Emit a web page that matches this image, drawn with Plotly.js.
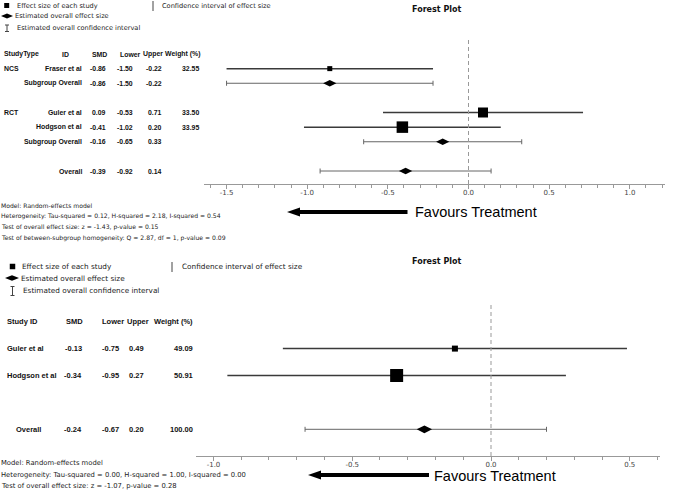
<!DOCTYPE html>
<html>
<head>
<meta charset="utf-8">
<script src="https://cdn.plot.ly/plotly-3.0.1.min.js"></script>
<style>html,body{margin:0;padding:0;background:#fff;}#chart{width:676px;height:492px;}</style>
</head>
<body>
<div id="chart"></div>
<script>
// ---------- DATA: top forest plot (subgroup analysis) ----------
const topStudyType = ['NCS', 'NCS', 'RCT', 'RCT', 'RCT', 'Overall'];
const topId = ['Fraser et al', 'Subgroup Overall', 'Guler et al', 'Hodgson et al', 'Subgroup Overall', 'Overall'];
const topSMD = [-0.86, -0.86, 0.09, -0.41, -0.16, -0.39];
const topLower = [-1.50, -1.50, -0.53, -1.02, -0.65, -0.92];
const topUpper = [-0.22, -0.22, 0.71, 0.20, 0.33, 0.14];
const topWeight = [32.55, null, 33.50, 33.95, null, null];
const topIsStudy = [true, false, true, true, false, false];
const topHeader = ['StudyType', 'ID', 'SMD', 'Lower', 'Upper', 'Weight (%)'];
const topTicks = [-1.5, -1.0, -0.5, 0.0, 0.5, 1.0];
const topStats = [
  'Model: Random-effects model',
  'Heterogeneity: Tau-squared = 0.12, H-squared = 2.18, I-squared = 0.54',
  'Test of overall effect size: z = -1.43, p-value = 0.15',
  'Test of between-subgroup homogeneity: Q = 2.87, df = 1, p-value = 0.09'
];

// ---------- DATA: bottom forest plot ----------
const botId = ['Guler et al', 'Hodgson et al', 'Overall'];
const botSMD = [-0.13, -0.34, -0.24];
const botLower = [-0.75, -0.95, -0.67];
const botUpper = [0.49, 0.27, 0.20];
const botWeight = [49.09, 50.91, 100.00];
const botIsStudy = [true, true, false];
const botHeader = ['Study ID', 'SMD', 'Lower', 'Upper', 'Weight (%)'];
const botTicks = [-1.0, -0.5, 0.0, 0.5];
const botStats = [
  'Model: Random-effects model',
  'Heterogeneity: Tau-squared = 0.00, H-squared = 1.00, I-squared = 0.00',
  'Test of overall effect size: z = -1.07, p-value = 0.28'
];

const titleText = 'Forest Plot';
const favoursText = 'Favours Treatment';
const legendTexts = ['Effect size of each study', 'Estimated overall effect size',
                     'Estimated overall confidence interval', 'Confidence interval of effect size'];

// ---------- STYLE ----------
const topStudySize = [5, 10, 11.5];
const botStudySize = [6, 13];
const W = 676, H = 492;
const px = x => x / W;
const py = y => 1 - y / H;
const TABLE_FONT = 'Liberation Sans, Arial, sans-serif';
const SMALL_FONT = 'DejaVu Sans, sans-serif';

// ---------- row categories ----------
const topKey = topId.map((d, i) => topStudyType[i] + ' · ' + d);
const topCats = ['header'];
topKey.forEach((k, i) => {
  if (i > 0 && topStudyType[i] !== topStudyType[i - 1]) topCats.push('gap' + i);
  topCats.push(k);
});
const botCats = ['header'];
botId.forEach((k, i) => {
  if (i > 0 && !botIsStudy[i] && botIsStudy[i - 1]) botCats.push('gap' + i);
  botCats.push(k);
});

function pick(arr, mask, want) { return arr.filter((_, i) => mask[i] === want); }

function forestTraces(xa, ya, keys, smd, lo, up, isStudy, studySizes, diamondSize) {
  const sx = pick(smd, isStudy, true), sy = pick(keys, isStudy, true);
  const sl = pick(lo, isStudy, true), su = pick(up, isStudy, true);
  const ox = pick(smd, isStudy, false), oy = pick(keys, isStudy, false);
  const ol = pick(lo, isStudy, false), ou = pick(up, isStudy, false);
  return [
    { type: 'scatter', mode: 'markers', xaxis: xa, yaxis: ya, x: sx, y: sy,
      marker: { size: 1, opacity: 0 },
      error_x: { type: 'data', symmetric: false, array: su.map((u, i) => u - sx[i]),
                 arrayminus: sl.map((l, i) => sx[i] - l), color: '#3a3a3a', thickness: 1.5, width: 0 },
      hoverinfo: 'skip', showlegend: false },
    { type: 'scatter', mode: 'markers', xaxis: xa, yaxis: ya, x: ox, y: oy,
      marker: { size: 1, opacity: 0 },
      error_x: { type: 'data', symmetric: false, array: ou.map((u, i) => u - ox[i]),
                 arrayminus: ol.map((l, i) => ox[i] - l), color: '#666', thickness: 1, width: 2.5 },
      hoverinfo: 'skip', showlegend: false },
    { type: 'scatter', mode: 'markers', xaxis: xa, yaxis: ya, x: sx, y: sy,
      marker: { symbol: 'square', size: studySizes, color: '#000', opacity: 1, line: { width: 0 } },
      hoverinfo: 'skip', showlegend: false },
    { type: 'scatter', mode: 'markers', xaxis: xa, yaxis: ya, x: ox, y: oy,
      marker: { symbol: 'diamond-wide', size: diamondSize, color: '#000', opacity: 1, line: { width: 0 } },
      hoverinfo: 'skip', showlegend: false }
  ];
}

const traces = [
  { type: 'scatter', mode: 'markers', xaxis: 'x', yaxis: 'y', x: topCats.map(() => null), y: topCats,
    marker: { opacity: 0 }, hoverinfo: 'skip', showlegend: false },
  { type: 'scatter', mode: 'markers', xaxis: 'x2', yaxis: 'y2', x: botCats.map(() => null), y: botCats,
    marker: { opacity: 0 }, hoverinfo: 'skip', showlegend: false },
  ...forestTraces('x', 'y', topKey, topSMD, topLower, topUpper, topIsStudy, topStudySize, 9.5),
  ...forestTraces('x2', 'y2', botId, botSMD, botLower, botUpper, botIsStudy, botStudySize, 11)
];

const ann = [];
function txt(text, x, y, yref, xanchor, size, family, color) {
  ann.push({
    text: text, x: x, y: y, xref: 'paper', yref: yref, xanchor: xanchor, yanchor: 'middle',
    showarrow: false, borderpad: 0, font: { size: size, family: family, color: color || '#111' }
  });
}
const fmt = v => v.toFixed(2);

// top table
const TF = 6.9;
const tHdrX = [[3, 'left'], [65, 'center'], [99, 'center'], [130, 'center'], [152.5, 'center'], [182.5, 'center']];
topHeader.forEach((h, j) => txt('<b>' + h + '</b>', px(tHdrX[j][0]), 0, 'y', tHdrX[j][1], TF, TABLE_FONT));
topKey.forEach((k, i) => {
  const r = topCats.indexOf(k);
  if (topIsStudy[i] && (i === 0 || topStudyType[i] !== topStudyType[i - 1])) {
    txt('<b>' + topStudyType[i] + '</b>', px(3), r, 'y', 'left', TF, TABLE_FONT);
  }
  txt('<b>' + topId[i] + '</b>', px(82.5), r, 'y', 'right', TF, TABLE_FONT);
  txt('<b>' + fmt(topSMD[i]) + '</b>', px(107), r, 'y', 'right', TF, TABLE_FONT);
  txt('<b>' + fmt(topLower[i]) + '</b>', px(134), r, 'y', 'right', TF, TABLE_FONT);
  txt('<b>' + fmt(topUpper[i]) + '</b>', px(162.5), r, 'y', 'right', TF, TABLE_FONT);
  if (topWeight[i] !== null) txt('<b>' + fmt(topWeight[i]) + '</b>', px(199.5), r, 'y', 'right', TF, TABLE_FONT);
});

// bottom table
const BF = 7.5;
const bHdrX = [[6, 'left'], [74.5, 'center'], [112.5, 'center'], [137.5, 'center'], [173.5, 'center']];
botHeader.forEach((h, j) => txt('<b>' + h + '</b>', px(bHdrX[j][0]), 0, 'y2', bHdrX[j][1], BF, TABLE_FONT));
botId.forEach((k, i) => {
  const r = botCats.indexOf(k);
  if (botIsStudy[i]) txt('<b>' + k + '</b>', px(6), r, 'y2', 'left', BF, TABLE_FONT);
  else txt('<b>' + k + '</b>', px(29), r, 'y2', 'center', BF, TABLE_FONT);
  txt('<b>' + fmt(botSMD[i]) + '</b>', px(82.5), r, 'y2', 'right', BF, TABLE_FONT);
  txt('<b>' + fmt(botLower[i]) + '</b>', px(120), r, 'y2', 'right', BF, TABLE_FONT);
  txt('<b>' + fmt(botUpper[i]) + '</b>', px(145), r, 'y2', 'right', BF, TABLE_FONT);
  txt('<b>' + fmt(botWeight[i]) + '</b>', px(193.5), r, 'y2', 'right', BF, TABLE_FONT);
});

// titles
txt('<b>' + titleText + '</b>', px(436.5), py(9.5), 'paper', 'center', 8, SMALL_FONT);
txt('<b>' + titleText + '</b>', px(436.5), py(261.5), 'paper', 'center', 8, SMALL_FONT);

// stats text
topStats.forEach((s, i) => txt(s, px(0), py(205 + 11 * i), 'paper', 'left', 6.1, SMALL_FONT, '#222'));
botStats.forEach((s, i) => txt(s, px(0), py(463 + 11.7 * i), 'paper', 'left', 6.8, SMALL_FONT, '#222'));

// favours text
txt(favoursText, px(413.5), py(212), 'paper', 'left', 14.5, TABLE_FONT, '#000');
txt(favoursText, px(432.5), py(475.5), 'paper', 'left', 14.5, TABLE_FONT, '#000');

// legend texts
const legTop = [[16, 6], [14, 16], [16, 28], [160.5, 6]];
const legBot = [[20.5, 266.5], [20, 278], [21.5, 290.5], [181, 266.5]];
legendTexts.forEach((t, i) => {
  txt(t, px(legTop[i][0]), py(legTop[i][1]), 'paper', 'left', 6.6, SMALL_FONT, '#222');
  txt(t, px(legBot[i][0]), py(legBot[i][1]), 'paper', 'left', 7.3, SMALL_FONT, '#222');
});

// shapes
const shapes = [];
function pathShape(pts, fill) {
  const d = pts.map((p, i) => (i ? 'L' : 'M') + px(p[0]) + ',' + py(p[1])).join(' ') + ' Z';
  shapes.push({ type: 'path', xref: 'paper', yref: 'paper', path: d, fillcolor: fill, line: { width: 0 } });
}
function lineShape(x0, y0, x1, y1, color, w) {
  shapes.push({ type: 'line', xref: 'paper', yref: 'paper', x0: px(x0), y0: py(y0), x1: px(x1), y1: py(y1), line: { color: color, width: w } });
}
function legendSymbols(sq, dm, ib, bar) {
  pathShape([[sq[0] - sq[2] / 2, sq[1] - sq[2] / 2], [sq[0] + sq[2] / 2, sq[1] - sq[2] / 2], [sq[0] + sq[2] / 2, sq[1] + sq[2] / 2], [sq[0] - sq[2] / 2, sq[1] + sq[2] / 2]], '#000');
  pathShape([[dm[0] - dm[2] / 2, dm[1]], [dm[0], dm[1] - dm[3] / 2], [dm[0] + dm[2] / 2, dm[1]], [dm[0], dm[1] + dm[3] / 2]], '#000');
  lineShape(ib[0], ib[1], ib[0], ib[2], '#444', 1);
  lineShape(ib[0] - 2, ib[1], ib[0] + 2, ib[1], '#444', 1);
  lineShape(ib[0] - 2, ib[2], ib[0] + 2, ib[2], '#444', 1);
  lineShape(bar[0], bar[1], bar[0], bar[2], '#444', 1);
}
legendSymbols([6.7, 5.5, 5], [7, 16, 12, 5], [7, 25, 31.5], [153, 1, 11]);
legendSymbols([12.5, 266.5, 5.5], [12, 278, 14, 5.5], [12.5, 286.5, 295.5], [172, 262, 272]);

function arrowShape(tipX, shaftEnd, y) {
  pathShape([[tipX, y], [tipX + 13, y - 4.5], [tipX + 13, y - 2], [shaftEnd, y - 2], [shaftEnd, y + 2], [tipX + 13, y + 2], [tipX + 13, y + 4.5]], '#000');
}
arrowShape(287, 407.5, 212);
arrowShape(308, 429, 475);

// dashed zero lines
shapes.push({ type: 'line', xref: 'x', yref: 'y domain', x0: 0, x1: 0, y0: 0, y1: 1, line: { color: '#999', width: 1, dash: '4px,3px' } });
shapes.push({ type: 'line', xref: 'x2', yref: 'y2 domain', x0: 0, x1: 0, y0: 0, y1: 1, line: { color: '#999', width: 1, dash: '4px,3px' } });

function xAxis(domain, range, anchor, ticks) {
  return {
    domain: domain, range: range, anchor: anchor, showline: true, linecolor: '#999', linewidth: 1,
    ticks: 'outside', ticklen: 4, tickcolor: '#999', tickwidth: 1,
    tickmode: 'array', tickvals: ticks, ticktext: ticks.map(v => v.toFixed(1)),
    ticklabelstandoff: -2, showgrid: false, zeroline: false, fixedrange: true,
    tickfont: { size: 7, family: SMALL_FONT, color: '#444' },
    minor: { tickmode: 'linear', dtick: 0.1, tick0: 0, ticks: 'outside', ticklen: 3, tickcolor: '#999', showgrid: false }
  };
}
function yAxis(domain, range, cats) {
  return {
    domain: domain, range: range, type: 'category', categoryorder: 'array', categoryarray: cats,
    visible: false, showgrid: false, zeroline: false, fixedrange: true
  };
}

const layout = {
  width: W, height: H, margin: { l: 0, r: 0, t: 0, b: 0 },
  paper_bgcolor: '#fff', plot_bgcolor: '#fff', showlegend: false,
  xaxis: xAxis([px(204), px(665)], [-1.6398, 1.2182], 'y', topTicks),
  yaxis: yAxis([py(184), py(40)], [(184 - 54) / 14.625, (40 - 54) / 14.625], topCats),
  xaxis2: xAxis([px(196), px(660)], [-1.063, 0.609], 'y2', botTicks),
  yaxis2: yAxis([py(456), py(302)], [(456 - 321.7) / 26.9, (302 - 321.7) / 26.9], botCats),
  annotations: ann, shapes: shapes
};

Plotly.newPlot('chart', traces, layout, { staticPlot: true, displayModeBar: false });
</script>
</body>
</html>
